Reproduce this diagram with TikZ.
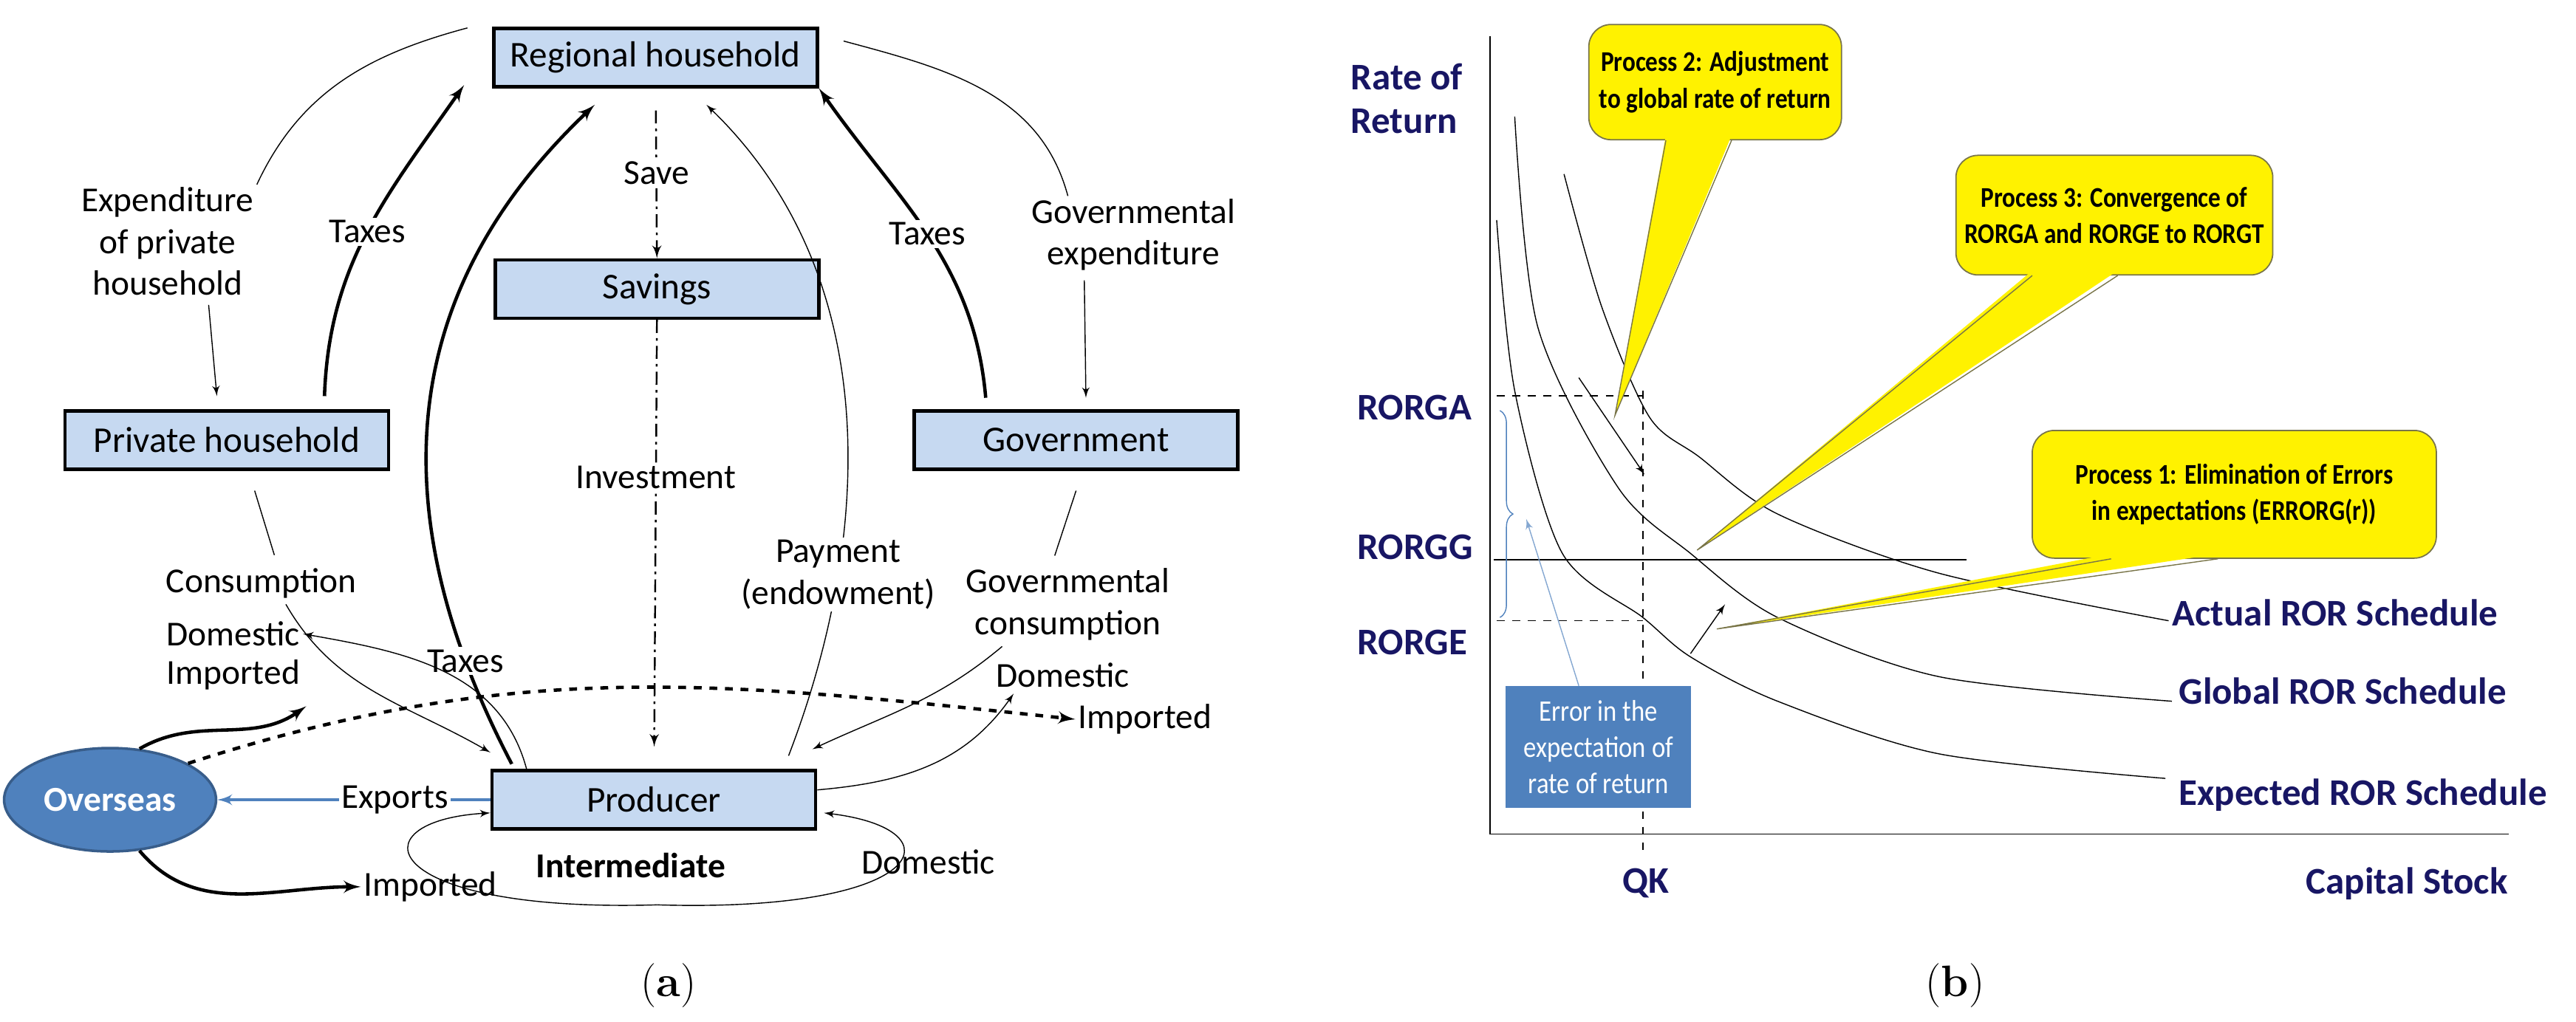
\documentclass[tikz,border=0pt]{standalone}
\usepackage{fontspec}
\setsansfont{Carlito}
\newfontfamily\condsf{Carlito}[FakeStretch=0.86]
\usetikzlibrary{arrows}
\usetikzlibrary{positioning}
\usetikzlibrary{shapes.geometric}
\usetikzlibrary{decorations.pathreplacing}
\definecolor{boxblue}{RGB}{198,217,241}
\definecolor{ovblue}{RGB}{79,129,189}
\definecolor{ovedge}{RGB}{56,93,138}
\definecolor{navy}{RGB}{24,22,100}
\tikzstyle{blk}=[draw, line width=1.3pt, fill=boxblue, minimum width=43.8mm, minimum height=7.9mm, font=\sffamily\fontsize{14}{16}\selectfont]
\tikzstyle{lbl}=[font=\sffamily\fontsize{13.5}{16}\selectfont, align=center, inner sep=1pt]
\tikzstyle{thn}=[line width=0.4pt]
\tikzstyle{thk}=[line width=1.3pt]
\tikzstyle{dd}=[line width=0.7pt, dash pattern=on 5pt off 2pt on 1pt off 2pt]
\tikzstyle{axl}=[text=navy, font=\sffamily\bfseries\fontsize{14.5}{17}\selectfont, inner sep=0pt]
\tikzstyle{bub}=[fill=yellow, draw=black!60!yellow, rounded corners=3mm, line width=0.5pt, font=\condsf\bfseries\fontsize{11}{14}\selectfont, align=center]
\begin{document}
\begin{tikzpicture}[x=0.2224mm, y=-0.2224mm, >=latex']
  \useasboundingbox (0,0) rectangle (1568,622);

    % (a) blocks
    \node [blk] (rh) at (399,35) {Regional household};
    \node [blk] (sav) at (400,176) {Savings};
    \node [blk] (ph) at (138,268) {Private household};
    \node [blk] (gov) at (655,268) {Government};
    \node [blk] (prod) at (398,487) {Producer};
    \node [ellipse, draw=ovedge, line width=1pt, fill=ovblue, minimum width=24.5mm, minimum height=14mm, text=white, font=\sffamily\bfseries\fontsize{13.5}{16}\selectfont] (ov) at (67,487) {Overseas};

    \node [lbl] (lexp) at (102,147) {Expenditure\\of private\\household};
    \node [lbl] (lgexp) at (690,143) {Governmental\\expenditure};
    \node [lbl] (lcons) at (159,355) {Consumption};
    \node [lbl] (ldom1) at (142,386) {Domestic};
    \node [lbl] (limp1) at (142,411) {Imported};
    \node [lbl] (lgcons) at (650,368) {Governmental\\consumption};
    \node [lbl] (ldom2) at (647,411) {Domestic};
    \node [lbl] (limp2) at (697,438) {Imported};
    \node [lbl, font=\sffamily\bfseries\fontsize{13.5}{16}\selectfont] (linter) at (384,527) {Intermediate};
    \node [lbl] (limp3) at (262,540) {Imported};
    \node [lbl] (ldom3) at (565,525) {Domestic};
    \coordinate (lp) at (400,551);

    \draw[thn] ([shift={(-15,-18)}]rh.west) to[out=195,in=65] (lexp.north east);
    \draw[thn,->] ([shift={(25,4)}]lexp.south) -- ([shift={(-6,-8)}]ph.north);
    \draw[thn] ([shift={(15,-10)}]rh.east) to[out=-15,in=105] ([shift={(-40,0)}]lgexp.north);
    \draw[thn,->] ([shift={(-30,4)}]lgexp.south) -- ([shift={(6,-7)}]gov.north);

    \draw[thk,->] ([shift={(-40,-8)}]ph.north east) to[out=88,in=235] node[lbl,fill=white,pos=0.5] {Taxes} ([shift={(-17,-2)}]rh.south west);
    \draw[thk,->] ([shift={(-55,-7)}]gov.north) to[out=95,in=-55] node[lbl,fill=white,pos=0.5] {Taxes} (rh.south east);
    \draw[thk,->] ([shift={(13,-3)}]prod.north west) .. controls (225,300) and (250,170) .. node[lbl,fill=white,pos=0.13] {Taxes} ([shift={(-37,10)}]rh.south);

    \draw[dd,->,shorten <=3mm] (rh) -- node[lbl,fill=white] {Save} (sav);
    \draw[dd,->,shorten >=3mm] (sav) -- node[lbl,fill=white,pos=0.35] {Investment} (prod);
    \draw[thn,->] ([shift={(82,-8)}]prod.north) .. controls (530,330) and (540,170) .. node[lbl,fill=white,pos=0.27] {Payment\\(endowment)} ([shift={(31,10)}]rh.south);

    % consumption
    \draw[thn] ([shift={(17,12)}]ph.south) -- ([shift={(8,-6)}]lcons.north);
    \draw[thn,->] ([shift={(15,2)}]lcons.south) to[out=-60,in=150] ([shift={(0,-10)}]prod.north west);
    \draw[thn,->] ([shift={(22,0)}]prod.north west) to[out=105,in=-10] (ldom1.east);
    \draw[thn] ([shift={(0,12)}]gov.south) -- ([shift={(-8,-6)}]lgcons.north);
    \draw[thn,->] ([shift={(-40,2)}]lgcons.south) to[out=-140,in=25] ([shift={(-3,-12)}]prod.north east);
    \draw[thn,->] ([shift={(0,-6)}]prod.east) to[out=5,in=-125] ([shift={(-30,2)}]ldom2.south);

    % trade
    \draw[thk,->] (ov.60) to[out=30,in=-145] ([shift={(2,8)}]limp1.south east);
    \draw[thk,dashed,->] (ov.25) to[out=18,in=174] (limp2.west);
    \draw[thk,->] (ov.-60) to[out=-50,in=180] (limp3.west);
    \draw[ovblue,line width=1pt,->] (prod.west) -- node[lbl,fill=white,text=black,pos=0.35] {Exports} (ov.east);

    % intermediate loop
    \draw[thn,->] (lp) .. controls (230,556) and (215,500) .. ([shift={(0,8)}]prod.west);
    \draw[thn,->] (lp) .. controls (565,556) and (585,505) .. ([shift={(4,8)}]prod.east);

    % (b) axes
    \coordinate (o) at (907,508);
    \coordinate (ytop) at (907,22);
    \coordinate (xend) at (1527,508);
    \draw[thn] (ytop) -- (o) -- (xend);
    \node [axl, align=left, anchor=west] (ylab) at (822,60) {Rate of\\Return};
    \node [axl, anchor=west] (ra) at (826,248) {RORGA};
    \node [axl, anchor=west] (rg) at (826,333) {RORGG};
    \node [axl, anchor=west] (re) at (826,391) {RORGE};
    \node [axl] (qk) at (1002,538) {QK};
    \node [axl] (xlab) at (1465,538) {Capital Stock};
    \node [axl, anchor=west] (lact) at (1322,373) {Actual ROR Schedule};
    \node [axl, anchor=west] (lglo) at (1326,421) {Global ROR Schedule};
    \node [axl, anchor=west] (lexpd) at (1326,484) {Expected ROR Schedule};

    \draw[thn, dashed] (911,241) -- (1000,241);
    \draw[thn, dashed] (911,378) -- (1000,378);
    \draw[thn, dashed] (1000,238) -- (1000,518);
    \draw[line width=0.6pt] (909,341) -- (1197,341);

    \draw[thn] plot[smooth] coordinates {(911,134) (922,238) (951,337) (1000,376) (1029,400) (1082,427) (1180,459) (1318,474)};
    \draw[thn] plot[smooth] coordinates {(922,71) (936,199) (985,297) (1029,337) (1082,376) (1180,412) (1322,427)};
    \draw[thn] plot[smooth] coordinates {(952,106) (975,187) (1004,254) (1034,278) (1082,313) (1180,349) (1320,378)};

    % error in expectation
    \draw[ovblue, thn, decorate, decoration={brace, amplitude=5pt}] (913,250) -- (913,376);
    \node [fill=ovblue, minimum width=25.1mm, minimum height=16.5mm, text=white, align=center, font=\condsf\fontsize{11.5}{14}\selectfont] (err) at (973,455) {Error in the\\expectation of\\rate of return};
    \coordinate (btip) at (929,316);
    \draw[ovblue!70, thn, ->] ([shift={(-12,0)}]err.north) -- (btip);

    % callouts
    \node [bub, minimum width=34.2mm, minimum height=15.6mm] (p2) at (1044,50) {Process 2: Adjustment\\to global rate of return};
    \node [bub, minimum width=39.4mm, minimum height=16.2mm] (p3) at (1287,131) {Process 3: Convergence of\\RORGA and RORGE to RORGT};
    \node [bub, minimum width=54.7mm, minimum height=17.3mm] (p1) at (1360,301) {Process 1: Elimination of Errors\\in expectations (ERRORG(r))};
    \coordinate (t2) at (983,253);
    \coordinate (t3) at (1033,335);
    \coordinate (t1) at (1045,383);
    \fill[yellow] ([shift={(-30,-3)}]p2.south) -- (t2) -- ([shift={(10,-3)}]p2.south) -- cycle;
    \draw[black!60!yellow, thn] ([shift={(-30,0)}]p2.south) -- (t2) -- ([shift={(10,0)}]p2.south);
    \fill[yellow] ([shift={(-50,-3)}]p3.south) -- (t3) -- ([shift={(2,-3)}]p3.south) -- cycle;
    \draw[black!60!yellow, thn] ([shift={(-50,0)}]p3.south) -- (t3) -- ([shift={(2,0)}]p3.south);
    \fill[yellow] ([shift={(-75,-3)}]p1.south) -- (t1) -- ([shift={(-10,-3)}]p1.south) -- cycle;
    \draw[black!60!yellow, thn] ([shift={(-75,0)}]p1.south) -- (t1) -- ([shift={(-10,0)}]p1.south);

    \coordinate (s1a) at (961,230);
    \coordinate (s1b) at (1001,289);
    \coordinate (s2a) at (1029,398);
    \coordinate (s2b) at (1050,368);
    \draw[thn,->] (s1a) -- (s1b);
    \draw[thn,->] (s2a) -- (s2b);

    % captions
    \node [font=\rmfamily\fontsize{17}{20}\selectfont] (capa) at (407,600) {(\textbf{a})};
    \node [font=\rmfamily\fontsize{17}{20}\selectfont] (capb) at (1190,600) {(\textbf{b})};
\end{tikzpicture}
\end{document}
